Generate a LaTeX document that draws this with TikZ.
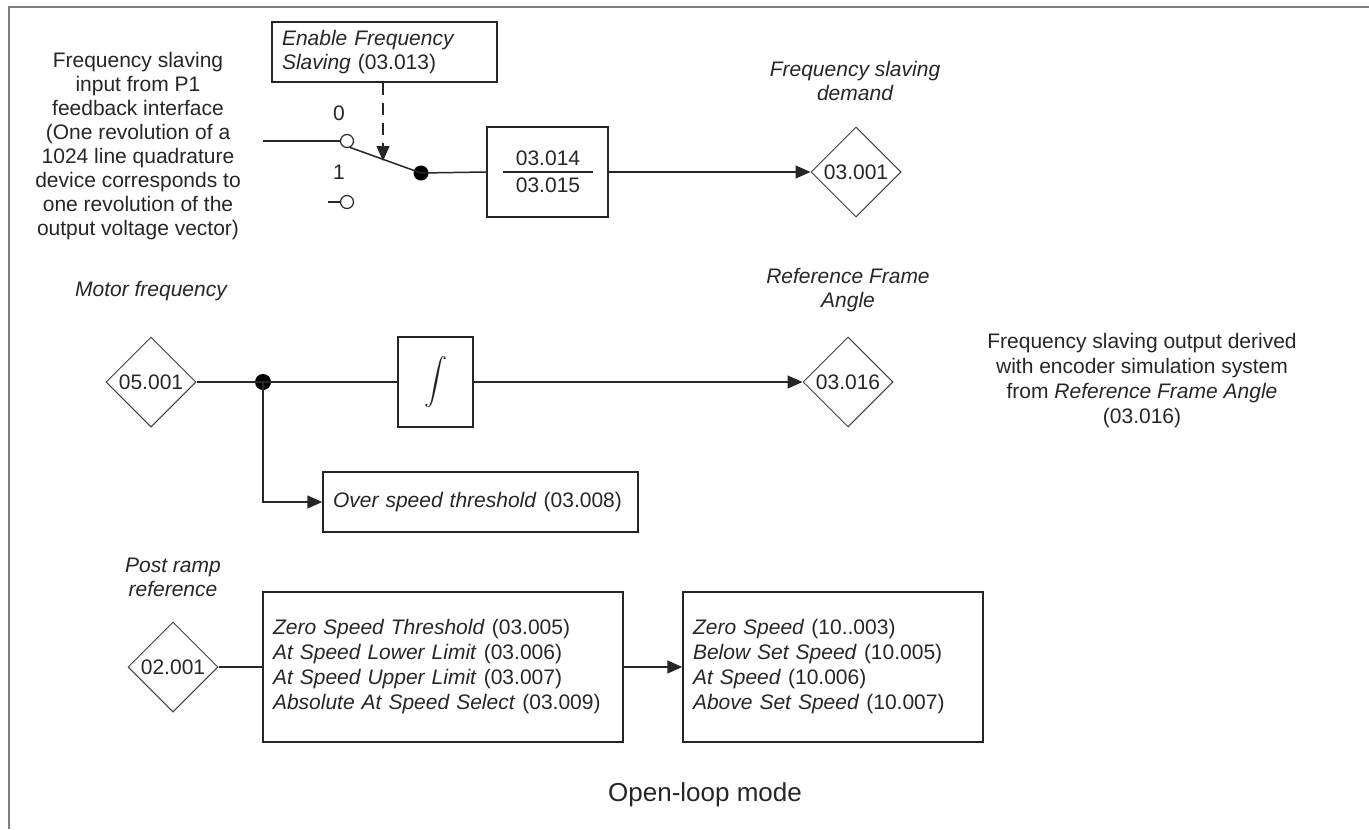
\documentclass[tikz,border=0pt]{standalone}
\usepackage{fontspec}
\setmainfont{Liberation Sans}
\usetikzlibrary{shapes.geometric,arrows.meta}
\begin{document}
\begin{tikzpicture}[x=0.5pt,y=-0.5pt,
  every node/.style={font=\fontsize{10.5}{12}\selectfont, text=black!85},
  pbox/.style={draw=black!85, line width=0.75pt, inner sep=0pt},
  pdiam/.style={draw=black!75, diamond, aspect=1, minimum width=45pt, minimum height=45pt, inner sep=0pt, line width=0.5pt},
  conn/.style={draw=black!85, line width=0.75pt},
  arr/.style={conn, -{Triangle[length=7.5pt,width=6.5pt]}},
  jdot/.style={circle, fill=black, inner sep=0pt, minimum size=7.5pt},
  contact/.style={circle, draw=black!85, line width=0.6pt, inner sep=0pt, minimum size=6.5pt},
  lbl/.style={align=center, font=\fontsize{10.5}{12}\selectfont\itshape},
  boxtext/.style={font=\fontsize{10.5}{12.5}\selectfont}
]
\useasboundingbox (0,0) rectangle (1369,829);
\draw[gray, line width=1.2pt] (1369,7) -- (9,7) -- (9,829);

% input text
\node[align=center] (intext) at (138,146) {Frequency slaving\\input from P1\\feedback interface\\(One revolution of a\\1024 line quadrature\\device corresponds to\\one revolution of the\\output voltage vector)};

% enable box
\node[pbox, minimum width=112.5pt, minimum height=30pt, text width=102.5pt, align=left] (enable) at (384.5,52) {\textit{Enable Frequency}\\\textit{Slaving} (03.013)};

% switch
\node[contact] (c0) at (347,141) {};
\node[contact] (c1) at (347,202) {};
\node (l0) at (339,113) {0};
\node (l1) at (339,172) {1};
\coordinate (inp) at (263,141);
\coordinate (c1stub) at (328,202);
\draw[conn] (inp) -- (c0);
\draw[conn] (c1stub) -- (c1);
\node[jdot] (sw) at (421,173) {};
\draw[conn] (c0.-65) -- (sw.center);
\coordinate (dtip) at (383,161);
\draw[arr, dash pattern=on 6pt off 4pt] (enable.south -| dtip) -- (dtip);

% fraction box
\node[pbox, minimum width=60.5pt, minimum height=45pt] (frac) at (547.5,172) {};
\node (num) at (548,158) {03.014};
\node (den) at (548,185) {03.015};
\coordinate (fl) at (503,172);
\coordinate (fr) at (593,172);
\draw[conn] (fl) -- (fr);
\draw[conn] (sw.center) -- (frac.west);
\node[pdiam] (d3001) at (856,172) {03.001};
\draw[arr] (frac.east) -- (d3001.west);
\node[lbl] (fsd) at (855,81) {Frequency slaving\\demand};

% motor frequency
\node[lbl] (mf) at (151,291) {Motor frequency};
\node[pdiam] (d5001) at (151,382) {05.001};
\node[jdot, minimum size=8pt] (j1) at (263,382) {};
\node[pbox, minimum width=37.5pt, minimum height=45pt] (integ) at (435.5,382) {\scalebox{1.15}{$\displaystyle\int$}};
\draw[conn] (d5001.east) -- (j1.center) -- (integ.west);
\node[pdiam] (d3016) at (848,382) {03.016};
\draw[arr] (integ.east) -- (d3016.west);
\node[lbl] (rfa) at (848,290) {Reference Frame\\Angle};
\node[align=center, font=\fontsize{10.5}{12.5}\selectfont] (fso) at (1142,381) {Frequency slaving output derived\\with encoder simulation system\\from \textit{Reference Frame Angle}\\(03.016)};

\node[pbox, minimum width=157.5pt, minimum height=30pt, text width=147.5pt, align=left] (ost) at (480.5,502) {\textit{Over speed threshold} (03.008)};
\draw[arr] (j1.center) |- (ost.west);

% post ramp
\node[lbl] (prr) at (173,577) {Post ramp\\reference};
\node[pdiam] (d2001) at (173,667) {02.001};
\node[pbox, boxtext, minimum width=180pt, minimum height=75pt, text width=170pt, align=left] (zst) at (443,667) {\textit{Zero Speed Threshold} (03.005)\\\textit{At Speed Lower Limit} (03.006)\\\textit{At Speed Upper Limit} (03.007)\\\textit{Absolute At Speed Select} (03.009)};
\draw[conn] (d2001.east) -- (zst.west);
\node[pbox, boxtext, minimum width=150pt, minimum height=75pt, text width=140pt, align=left] (zsp) at (833,667) {\textit{Zero Speed} (10..003)\\\textit{Below Set Speed} (10.005)\\\textit{At Speed} (10.006)\\\textit{Above Set Speed} (10.007)};
\draw[arr] (zst.east) -- (zsp.west);

\node[font=\fontsize{13}{15}\selectfont] (olm) at (705,795) {Open-loop mode};
\end{tikzpicture}
\end{document}
